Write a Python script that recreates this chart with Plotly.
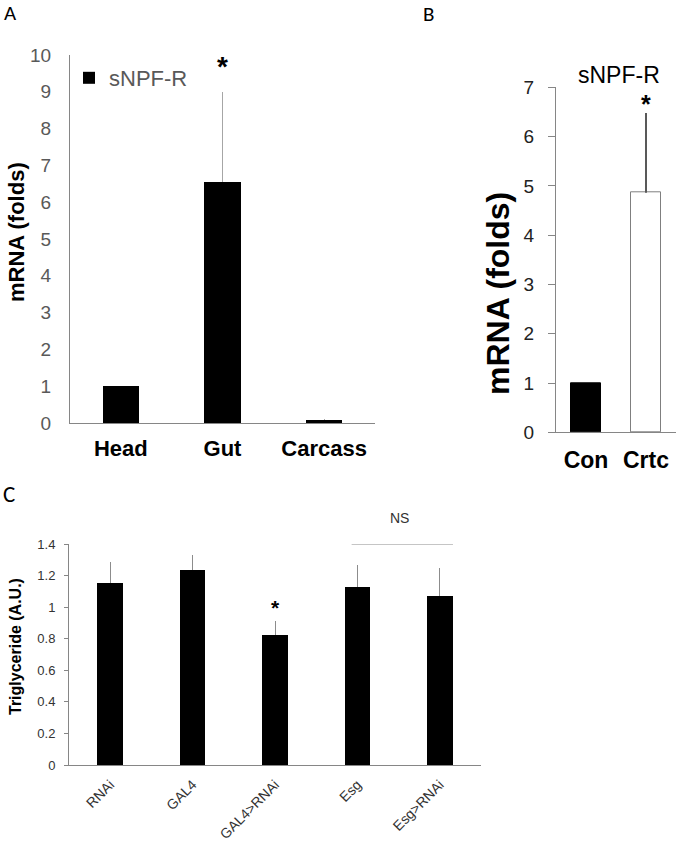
import plotly.graph_objects as go

W, H = 677, 842

# ---------------- data ----------------
tissues = ["Head", "Gut", "Carcass"]
tissue_vals = [1.0, 6.55, 0.08]
tissue_err = [0.0, 2.45, 0.03]

groups_b = ["Con", "Crtc"]
b_vals = [1.0, 4.86]
b_err = [0.0, 1.62]

genotypes = ["RNAi", "GAL4", "GAL4>RNAi", "Esg", "Esg>RNAi"]
tg_vals = [1.155, 1.233, 0.826, 1.127, 1.07]
tg_err = [0.133, 0.097, 0.088, 0.143, 0.18]

A_ticks = list(range(0, 11))
B_ticks = list(range(0, 8))
C_ticks = [0, 0.2, 0.4, 0.6, 0.8, 1, 1.2, 1.4]

FONT = "Arial, Liberation Sans, sans-serif"
LETTER_FONT = "Calibri, Lato, Open Sans, sans-serif"


def px(x):
    return x / W


def py(y):
    return 1 - y / H


fig = go.Figure()

# Panel A
fig.add_trace(go.Bar(
    x=tissues, y=tissue_vals, name="sNPF-R", width=0.355,
    marker=dict(color="black", line=dict(width=0)),
    error_y=dict(type="data", array=tissue_err, arrayminus=[0] * 3, symmetric=False,
                 color="#a6a6a6", thickness=1.2, width=0),
    xaxis="x", yaxis="y", showlegend=True))

# Panel B
fig.add_trace(go.Bar(
    x=groups_b, y=b_vals, width=0.5,
    marker=dict(color=["black", "white"], line=dict(color=["black", "#7f7f7f"], width=1)),
    error_y=dict(type="data", array=b_err, arrayminus=[0] * 2, symmetric=False,
                 color="#595959", thickness=2, width=0),
    xaxis="x2", yaxis="y2", showlegend=False))

# Panel C
fig.add_trace(go.Bar(
    x=genotypes, y=tg_vals, width=0.31,
    marker=dict(color="black", line=dict(width=0)),
    error_y=dict(type="data", array=tg_err, arrayminus=[0] * 5, symmetric=False,
                 color="#8c8c8c", thickness=1, width=0),
    xaxis="x3", yaxis="y3", showlegend=False))

axis_line = dict(showline=True, linecolor="#868686", linewidth=1, showgrid=False,
                 zeroline=False, fixedrange=True, automargin=False)

fig.update_layout(
    width=W, height=H,
    margin=dict(l=0, r=0, t=0, b=0, autoexpand=False),
    paper_bgcolor="white", plot_bgcolor="white",
    font=dict(family=FONT, color="black"),
    bargap=0,
    # Panel A axes
    xaxis=dict(domain=[px(70), px(375)], anchor="y", range=[-0.5, 2.5],
               tickfont=dict(size=22, weight="bold", color="black"), ticks="",
               ticklabelstandoff=6, **axis_line),
    yaxis=dict(domain=[py(423), py(55)], anchor="x", range=[0, 10],
               tickvals=A_ticks, tickfont=dict(size=19, color="#595959"), ticks="",
               ticklabelstandoff=14, **axis_line),
    # Panel B axes
    xaxis2=dict(domain=[px(556), px(676)], anchor="y2", range=[-0.5, 1.5],
                tickfont=dict(size=23, weight="bold", color="black"), ticks="",
                ticklabelstandoff=7, **axis_line),
    yaxis2=dict(domain=[py(432.3), py(87.3)], anchor="x2", range=[0, 7],
                tickvals=B_ticks, tickfont=dict(size=19, color="#222222"),
                ticks="outside", ticklen=7, tickcolor="#868686",
                ticklabelstandoff=10, **axis_line),
    # Panel C axes
    xaxis3=dict(domain=[px(69), px(481)], anchor="y3", range=[-0.5, 4.5],
                tickfont=dict(size=14, color="#333333"), tickangle=-45, ticks="",
                ticklabelstandoff=5, **axis_line),
    yaxis3=dict(domain=[py(765), py(544)], anchor="x3", range=[0, 1.4],
                tickvals=C_ticks, ticktext=[f"{v:g}" for v in C_ticks],
                tickfont=dict(size=13, color="#333333"),
                ticks="outside", ticklen=4, tickcolor="#868686",
                ticklabelstandoff=6, **axis_line),
    legend=dict(x=px(69), y=py(57), xanchor="left", yanchor="top",
                font=dict(size=22, color="#595959"), bgcolor="rgba(0,0,0,0)",
                itemwidth=30, itemclick=False, itemdoubleclick=False),
)


def note(text, x, y, size, **kw):
    d = dict(text=text, x=x, y=y, showarrow=False, xanchor="center", yanchor="middle")
    d.update(kw)
    font = dict(size=size, color=kw.pop("color", "black"))
    d.pop("color", None)
    if "weight" in d:
        font["weight"] = d.pop("weight")
    if "family" in d:
        font["family"] = d.pop("family")
    d["font"] = font
    return d


ann = []
# panel letters
ann.append(note("A", px(10), py(13.5), 21, xref="paper", yref="paper", family=LETTER_FONT))
ann.append(note("B", px(428), py(14), 21, xref="paper", yref="paper", family=LETTER_FONT))
ann.append(note("C", px(9), py(494), 23, xref="paper", yref="paper", family=LETTER_FONT))

# y titles
ann.append(note("mRNA (folds)", px(16), py(232), 22, xref="paper", yref="paper",
                textangle=-90, weight="bold"))
ann.append(note("mRNA (folds)", px(498), py(294), 32, xref="paper", yref="paper",
                textangle=-90, weight="bold"))
ann.append(note("Triglyceride (A.U.)", px(15), py(647), 16, xref="paper", yref="paper",
                textangle=-90, weight="bold"))

# B title
ann.append(note("sNPF-R", px(619), py(75), 23, xref="paper", yref="paper"))

# significance stars
ann.append(note("*", "Gut", tissue_vals[1] + tissue_err[1], 28, xref="x", yref="y",
                yshift=25, weight="bold"))
ann.append(note("*", "Crtc", b_vals[1] + b_err[1], 25, xref="x2", yref="y2",
                yshift=9, weight="bold"))
ann.append(note("*", "GAL4>RNAi", tg_vals[2] + tg_err[2], 21, xref="x3", yref="y3",
                yshift=13, weight="bold"))

# NS bracket
ns_i0 = genotypes.index("Esg")
ns_i1 = genotypes.index("Esg>RNAi")
fig.add_shape(type="line", xref="x3", yref="y3", x0=ns_i0 - 0.07, x1=ns_i1 + 0.16,
              y0=1.4, y1=1.4, line=dict(color="#8c8c8c", width=1))
ann.append(note("NS", px(399), py(518), 14, xref="paper", yref="paper", color="#333333"))

fig.update_layout(annotations=ann)

fig.write_html("out.html", config={"displayModeBar": False},
               post_script="document.body.style.margin='0px';")
